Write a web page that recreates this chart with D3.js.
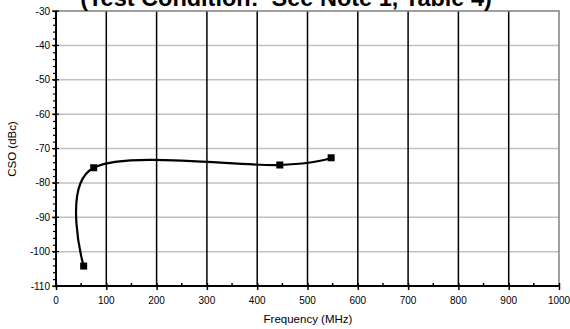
<!DOCTYPE html>
<html><head><meta charset="utf-8">
<script src="https://cdn.jsdelivr.net/npm/d3@7/dist/d3.min.js"></script>
<style>body{margin:0;background:#fff}svg{display:block}text{font-family:"Liberation Sans",Arial,sans-serif}</style>
</head><body><svg id="c" width="570" height="329"></svg>
<script>
const freq = [55, 75, 445, 547];
const cso = [-104.2, -75.6, -74.8, -72.7];
const xTicks = [0,100,200,300,400,500,600,700,800,900,1000];
const yTicks = [-30,-40,-50,-60,-70,-80,-90,-100,-110];
const title = "(Test Condition:  See Note 1, Table 4)";

const svg = d3.select("#c");
const L=56, R=559, T=11, B=286;
const x = d3.scaleLinear().domain([0,1000]).range([L,R]);
const y = d3.scaleLinear().domain([-110,-30]).range([B,T]);

// horizontal grid
svg.append("g").selectAll("line").data(yTicks.filter(d=>d>-110 && d<-30)).join("line")
  .attr("x1",L).attr("x2",R).attr("y1",d=>y(d)).attr("y2",d=>y(d))
  .attr("stroke","#c0c0c0").attr("stroke-width",1.5);
// vertical grid
svg.append("g").selectAll("line").data(xTicks.filter(d=>d>0 && d<1000)).join("line")
  .attr("x1",d=>x(d)).attr("x2",d=>x(d)).attr("y1",T).attr("y2",B)
  .attr("stroke","#000").attr("stroke-width",1.5);
// top/right border
svg.append("path").attr("d",`M${L},${T}H${R}V${B}`).attr("fill","none")
  .attr("stroke","#808080").attr("stroke-width",1.5);

// y axis
const ya = svg.append("g").attr("transform",`translate(${L},0)`)
  .call(d3.axisLeft(y).tickValues(d3.range(-110,-29,2)).tickSize(3).tickFormat(""));
ya.selectAll("line").attr("stroke","#000").attr("stroke-width",1.2);
ya.select(".domain").remove();
svg.append("line").attr("x1",L).attr("x2",L).attr("y1",T).attr("y2",B).attr("stroke","#000").attr("stroke-width",2);
svg.append("g").selectAll("line").data(yTicks).join("line")
  .attr("x1",L-4).attr("x2",L+3).attr("y1",d=>y(d)).attr("y2",d=>y(d)).attr("stroke","#000").attr("stroke-width",1.2);
svg.append("g").selectAll("text").data(yTicks).join("text")
  .attr("x",L-6).attr("y",d=>y(d)).attr("dy","0.35em").attr("text-anchor","end")
  .attr("font-size",10).attr("fill","#000").text(d=>d);

// x axis
svg.append("line").attr("x1",L).attr("x2",R).attr("y1",B).attr("y2",B).attr("stroke","#000").attr("stroke-width",2);
const xa = svg.append("g").attr("transform",`translate(0,${B})`)
  .call(d3.axisBottom(x).tickValues(xTicks).tickSize(4).tickFormat(""));
xa.select(".domain").remove();
xa.selectAll("line").attr("y1",-3).attr("stroke","#000").attr("stroke-width",1.5);
svg.append("g").selectAll("line").data(d3.range(50,1000,100)).join("line")
  .attr("x1",d=>x(d)).attr("x2",d=>x(d)).attr("y1",B-3).attr("y2",B).attr("stroke","#000").attr("stroke-width",1.5);
svg.append("g").selectAll("text").data(xTicks).join("text")
  .attr("x",d=>x(d)).attr("y",B+18).attr("text-anchor","middle")
  .attr("font-size",10).attr("fill","#000").text(d=>d);

// axis titles
svg.append("text").attr("x",308).attr("y",323).attr("text-anchor","middle").attr("font-size",11.5).text("Frequency (MHz)");
svg.append("text").attr("transform","translate(16,149) rotate(-90)").attr("text-anchor","middle").attr("font-size",11.5).text("CSO (dBc)");

// title
svg.append("text").attr("x",286).attr("y",6).attr("text-anchor","middle").attr("font-size",23.5)
  .attr("font-weight","bold").style("white-space","pre").text(title);

// data
const pts = freq.map((f,i)=>[f,cso[i]]);
svg.append("path").datum(pts)
  .attr("d",d3.line().x(d=>x(d[0])).y(d=>y(d[1])).curve(d3.curveCardinal.tension(0)))
  .attr("fill","none").attr("stroke","#000").attr("stroke-width",2.2);
svg.append("g").selectAll("rect").data(pts).join("rect")
  .attr("x",d=>x(d[0])-3.5).attr("y",d=>y(d[1])-3.5).attr("width",7).attr("height",7).attr("fill","#000");
</script></body></html>
